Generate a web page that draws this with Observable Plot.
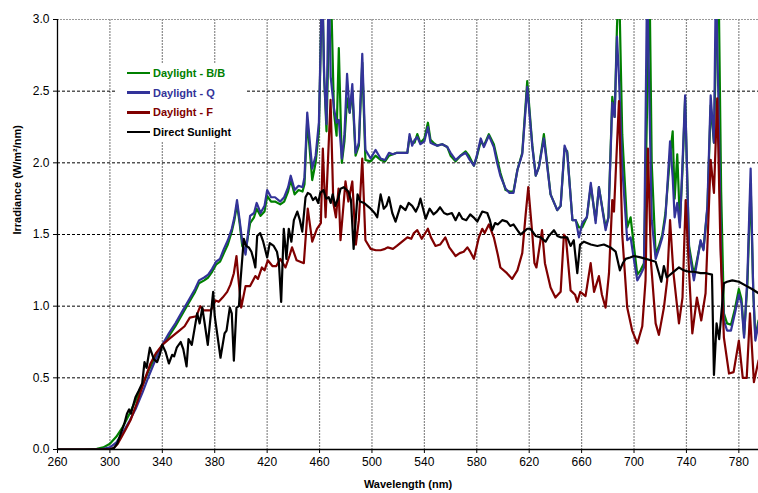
<!DOCTYPE html>
<html>
<head>
<meta charset="utf-8">
<script src="https://cdn.jsdelivr.net/npm/d3@7"></script>
<script src="https://cdn.jsdelivr.net/npm/@observablehq/plot@0.6"></script>
<style>
  html, body { margin: 0; padding: 0; background: #fff; }
  #wrap { position: relative; width: 758px; height: 493px; font-family: 'Liberation Sans', Arial, sans-serif; }
  #legend { position: absolute; left: 115px; top: 64px; width: 130px; height: 78px; background: #fff; }
  .row { height: 19.6px; line-height: 19.6px; font-size: 11px; font-weight: bold; white-space: nowrap; }
  .sw { display: inline-block; width: 23px; height: 2.5px; margin-left: 12px; margin-right: 3px; vertical-align: middle; position: relative; top: -1px; }
</style>
</head>
<body>
<div id="wrap"><div id="legend"></div></div>
<script>
// ---- tick labels ----
const xTicks = [260, 300, 340, 380, 420, 460, 500, 540, 580, 620, 660, 700, 740, 780];
const yTicks = [0, 0.5, 1.0, 1.5, 2.0, 2.5, 3.0];

// ---- series names / colours ----
const seriesNames = ["Daylight - B/B", "Daylight - Q", "Daylight - F", "Direct Sunlight"];
const seriesColors = ["#008000", "#333399", "#800000", "#000000"];

// ---- shared wavelength grid for Daylight - B/B and Daylight - Q (nm) ----
const dayWl = [260,280,290,295,300,305,310,315,320,325,
  330,335,340,345,350,355,360,365,368,372,
  375,378,381,384,387,390,393,395,397,399,
  401,403.5,407,410,412,415,418,420,423,426,
  430,433,436,438,441,444,447,448.5,450.6,454.4,
  457,459.5,462,463.5,465.3,467,468.5,471,473,474.7,
  477,479,481,483,485,487.5,490,492.6,495,499,
  502.7,506.6,510,513,516,519,523,527,528.7,530.7,
  532.5,534.6,537,540,542.7,544.7,547,549.8,553.6,557.5,
  560,563.8,567.6,571.5,574,577.8,580,583,585.4,589.2,
  593,595.5,598,602,605,608,611,614.7,618.5,622.4,
  625,627.4,631.2,636.3,641.4,644,647,649,653,655.5,
  658,660.5,664,667,670.7,673.2,678.3,680.5,683.4,685.2,
  687,688.5,691,694.8,697.4,699.5,702.5,705,707.6,710,
  711.8,713.5,716.5,719,721.6,724,727.5,729.5,731,733,
  735,737,739,742,745.7,748,750.8,753,756,758.5,
  761,762.5,764.5,766.5,768.6,771,774,777,780,782,
  784,786.5,789,791,792.6,795];

// Daylight - Q (W/m²/nm)
const qVal = [0,0,0,0.005,0.015,0.05,0.12,0.2,0.29,0.40,
  0.52,0.63,0.73,0.81,0.88,0.96,1.04,1.12,1.18,1.20,
  1.22,1.26,1.31,1.33,1.40,1.46,1.54,1.62,1.74,1.60,
  1.45,1.36,1.63,1.65,1.72,1.65,1.70,1.81,1.76,1.76,
  1.73,1.76,1.83,1.91,1.81,1.84,1.83,1.90,2.35,1.96,
  2.05,2.28,3.3,2.6,2.27,3.3,2.6,2.38,2.28,2.30,
  2.03,2.2,2.62,2.35,2.55,2.07,2.14,2.76,2.09,2.03,
  2.09,2.03,2.02,2.07,2.06,2.07,2.07,2.07,2.20,2.12,
  2.16,2.18,2.13,2.15,2.25,2.14,2.13,2.12,2.13,2.11,
  2.07,2.02,2.05,2.07,2.03,1.98,2.05,2.17,2.11,2.19,
  2.11,2.0,1.91,1.82,1.79,1.79,1.95,2.06,2.53,2.11,
  1.91,1.97,2.17,1.78,1.67,1.70,2.12,2.07,1.60,1.60,
  1.48,1.58,1.62,1.86,1.58,1.83,1.53,1.62,2.42,2.32,
  2.88,2.6,1.97,1.46,1.48,1.35,1.18,1.22,1.27,3.3,
  2.4,1.6,1.33,1.40,1.48,1.62,2.15,1.9,1.62,1.72,
  1.55,2.0,2.47,1.39,1.18,1.30,1.46,1.39,1.70,2.47,
  2.14,3.3,2.4,1.3,0.90,0.83,0.83,0.95,1.08,1.02,
  0.78,1.2,1.96,1.1,0.76,0.88];

// Daylight - B/B (W/m²/nm)
const bbVal = [0,0,0.005,0.015,0.04,0.09,0.16,0.25,0.35,0.45,
  0.56,0.65,0.73,0.79,0.86,0.94,1.02,1.10,1.16,1.18,
  1.20,1.24,1.29,1.31,1.37,1.43,1.52,1.60,1.71,1.58,
  1.42,1.38,1.58,1.62,1.68,1.63,1.66,1.77,1.73,1.73,
  1.71,1.73,1.80,1.88,1.78,1.81,1.80,1.85,2.30,1.88,
  2.0,2.22,3.3,2.6,2.22,2.9,3.3,2.35,2.19,2.80,
  2.0,2.15,2.45,2.35,2.50,2.05,2.12,2.70,2.02,2.01,
  2.05,2.02,2.01,2.05,2.06,2.07,2.07,2.07,2.18,2.14,
  2.14,2.2,2.14,2.17,2.28,2.16,2.14,2.12,2.13,2.11,
  2.05,2.01,2.05,2.08,2.05,1.98,2.04,2.15,2.12,2.20,
  2.13,2.03,1.93,1.81,1.80,1.80,1.95,2.07,2.57,2.12,
  1.91,1.97,2.20,1.78,1.67,1.70,2.10,2.08,1.60,1.60,
  1.55,1.55,1.62,1.84,1.60,1.83,1.55,1.62,2.46,2.32,
  2.95,3.3,2.2,1.55,1.62,1.45,1.22,1.25,1.30,2.4,
  3.3,2.0,1.36,1.42,1.50,1.65,2.05,2.22,1.75,2.06,
  1.58,1.95,2.45,1.42,1.22,1.32,1.45,1.40,1.68,2.40,
  2.14,2.8,3.3,1.8,0.95,0.88,0.87,0.98,1.12,1.05,
  0.80,1.15,1.85,1.1,0.78,0.90];

// Daylight - F
const fWl = [260,295,300,303,306,309,312,316,320,323,327,331,335,340,345,349,353,357,361,366,
  369,371.5,377,380.6,383,386,389.5,392,394.6,396.6,398,400.2,403.5,407,411,413,416,418,420.5,424,
  427,430,434,437,439,442.5,448,451,454.4,458,461,462.5,464.6,468.4,470.5,472.5,474.5,476,479.8,482,
  485,487.7,490,492.6,495,499,503,506.6,510,512,516,519,523,527,530,532,534.6,538,540,542.7,
  545,548.5,552,556,559,563.8,567,570,572.8,575,577.8,581.6,584.2,586,589.2,593,596,598,603,607,
  611,614.7,617.3,619.3,622.4,624,625.5,629.8,632,636.3,640,644,646.5,648,651.6,655,656.7,659,663,666.9,
  669.5,673.2,675.5,678.3,680.9,683.4,684.7,688.5,691,694.8,698.6,702.5,706.3,708.8,710.6,713,716.5,719,722.8,725.3,
  727.5,730,734.3,737,739.4,742,744.5,748,751.3,754.6,758.5,761,763.5,766,768.6,772.5,776,780,783,786,
  788.5,791.5,795];
const fVal = [0,0,0.003,0.01,0.04,0.09,0.14,0.21,0.31,0.39,0.50,0.60,0.67,0.73,0.77,0.80,0.83,0.86,0.92,0.93,
  1.00,0.97,0.97,1.04,1.03,1.06,1.10,1.15,1.23,1.35,1.20,0.99,1.14,1.14,1.21,1.19,1.27,1.25,1.32,1.28,
  1.28,1.33,1.27,1.35,1.41,1.32,1.30,1.68,1.45,1.54,1.58,2.10,1.62,2.44,1.72,1.62,1.82,1.46,1.87,1.73,
  1.87,1.43,1.60,2.03,1.46,1.40,1.39,1.39,1.40,1.41,1.40,1.42,1.45,1.48,1.47,1.51,1.53,1.47,1.50,1.54,
  1.48,1.42,1.43,1.48,1.41,1.35,1.37,1.38,1.41,1.38,1.33,1.48,1.54,1.51,1.57,1.48,1.36,1.27,1.23,1.19,
  1.25,1.37,1.64,1.83,1.50,1.30,1.27,1.53,1.30,1.13,1.06,1.10,1.50,1.48,1.11,1.08,1.03,1.10,1.07,1.30,
  1.10,1.21,1.08,0.99,1.23,1.74,1.66,2.43,1.50,0.99,0.83,0.74,0.86,1.18,2.10,1.30,0.88,0.80,0.99,1.18,
  1.60,1.24,0.88,1.06,1.74,1.24,0.81,1.06,0.90,1.09,2.02,1.79,2.45,1.40,0.78,0.53,0.54,0.76,0.50,0.50,
  0.95,0.47,0.62];

// Direct Sunlight
const sunWl = [260,300,303,305.5,309,311,313,314.7,316,319.5,322,324.6,326.4,328,330.5,333.5,336,338,340,342.5,
  345,347.5,349,351,354,356,358.5,360,362.5,366.6,368.5,370.5,372,374.7,376,378.8,380,382,384.4,387.5,
  389,391.5,393,394.6,396.6,398.5,399.7,402.2,404,406,408,409.5,411,412.4,414.7,417,420,422,425,427.5,
  429,430.7,432.7,434.7,436.5,438.5,440.4,443,445,446.8,449.3,451,453,455,457,459,460.5,463,465,467,
  468.5,470,472,474.5,476,478.5,482,484,486,489,491,494,496.5,499,502,504,506.6,509,511,513,
  515.5,518,521.8,525.6,528,530.7,533.5,535.5,537,539,541,544,547,549.5,552,555,557.5,561,563.8,566.5,
  569,572,575,577.5,580.4,584.2,588,590,591.8,594,596,599.4,603,605.5,608,611,613.4,616,618.5,621,
  624.9,628.7,632.5,635,638.9,641.5,644,649,651.6,654,656.7,658.8,661.8,667,672,677,682,686,689.2,691.5,
  693.6,697,700,705,709,712.7,716.5,719,720.8,722.8,725,729,734.3,738,742,745.7,750.8,755,759.5,761,
  763,765,768.6,771,775,780,786,790,795];
const sunVal = [0,0,0.01,0.04,0.13,0.18,0.25,0.28,0.25,0.365,0.41,0.46,0.61,0.57,0.71,0.63,0.61,0.66,0.73,0.68,
  0.60,0.66,0.65,0.71,0.75,0.70,0.58,0.77,0.73,0.95,0.88,0.99,0.90,0.73,0.85,1.10,0.93,0.80,0.64,0.81,
  0.83,0.99,0.95,0.62,0.99,1.00,1.18,1.47,1.42,1.41,1.38,1.33,1.27,1.49,1.51,1.45,1.34,1.44,1.42,1.38,
  1.30,1.03,1.54,1.33,1.54,1.45,1.60,1.66,1.60,1.52,1.76,1.79,1.78,1.74,1.76,1.72,1.79,1.81,1.75,1.76,
  1.72,1.78,1.70,1.76,1.82,1.83,1.80,1.74,1.40,1.78,1.73,1.72,1.70,1.68,1.65,1.62,1.78,1.68,1.70,1.76,
  1.65,1.59,1.70,1.67,1.72,1.70,1.66,1.70,1.75,1.68,1.61,1.68,1.64,1.66,1.69,1.65,1.64,1.65,1.60,1.65,
  1.61,1.60,1.64,1.62,1.59,1.66,1.65,1.60,1.53,1.58,1.57,1.60,1.59,1.56,1.57,1.53,1.50,1.52,1.54,1.54,
  1.49,1.48,1.45,1.49,1.53,1.49,1.48,1.48,1.42,1.46,1.23,1.43,1.45,1.43,1.42,1.43,1.41,1.38,1.25,1.30,
  1.33,1.34,1.35,1.34,1.33,1.32,1.31,1.23,1.17,1.28,1.20,1.23,1.27,1.25,1.24,1.24,1.23,1.23,1.22,0.52,
  0.88,0.77,1.16,1.17,1.18,1.17,1.14,1.12,1.09];

const toRows = (wl, vals) => wl.map((w, i) => ({w, v: vals[i]}));
const seriesData = [toRows(dayWl, bbVal), toRows(dayWl, qVal), toRows(fWl, fVal), toRows(sunWl, sunVal)];

const gridYVals = yTicks.filter(v => v > 0 && v < 3);
const gridXVals = xTicks.filter(v => v > 260);

const chart = Plot.plot({
  width: 758,
  height: 493,
  marginLeft: 57,
  marginRight: 0,
  marginTop: 19,
  marginBottom: 44,
  style: {fontFamily: "'Liberation Sans', Arial, sans-serif", fontSize: "12px", color: "#000", background: "#fff", overflow: "visible"},
  x: {domain: [260, 795]},
  y: {domain: [0, 3]},
  marks: [
    Plot.ruleX(gridXVals, {stroke: "#8a8a8a", strokeWidth: 1.2, strokeDasharray: "2,1"}),
    Plot.ruleY(gridYVals, {stroke: "#000", strokeWidth: 1, strokeDasharray: "3,2"}),
    Plot.ruleY([3], {stroke: "#999", strokeWidth: 1.2, strokeDasharray: "2,1"}),
    ...seriesData.map((d, i) => Plot.line(d, {x: "w", y: "v", stroke: seriesColors[i], strokeWidth: 2.2, strokeLinejoin: "round", clip: true})),
    Plot.ruleX([260], {stroke: "#000", strokeWidth: 1.3}),
    Plot.ruleY([0], {stroke: "#000", strokeWidth: 1.3}),
    Plot.axisX({ticks: xTicks, tickSize: 4, tickPadding: 4, label: null, fontSize: 12}),
    Plot.axisY({ticks: yTicks, tickSize: 4, tickPadding: 4, tickFormat: d3.format(".1f"), label: null, fontSize: 12}),
    Plot.text(["Wavelength (nm)"], {text: d => d, frameAnchor: "bottom", dy: 38, fontWeight: "bold", fontSize: 11}),
    Plot.text(["Irradiance (W/m²/nm)"], {text: d => d, frameAnchor: "left", dx: -40, rotate: -90, fontWeight: "bold", fontSize: 11})
  ]
});
document.getElementById("wrap").prepend(chart);

const legend = document.getElementById("legend");
seriesNames.forEach((name, i) => {
  const row = document.createElement("div");
  row.className = "row";
  row.style.color = seriesColors[i];
  const sw = document.createElement("span");
  sw.className = "sw";
  sw.style.background = seriesColors[i];
  row.appendChild(sw);
  row.appendChild(document.createTextNode(name));
  legend.appendChild(row);
});
</script>
</body>
</html>
